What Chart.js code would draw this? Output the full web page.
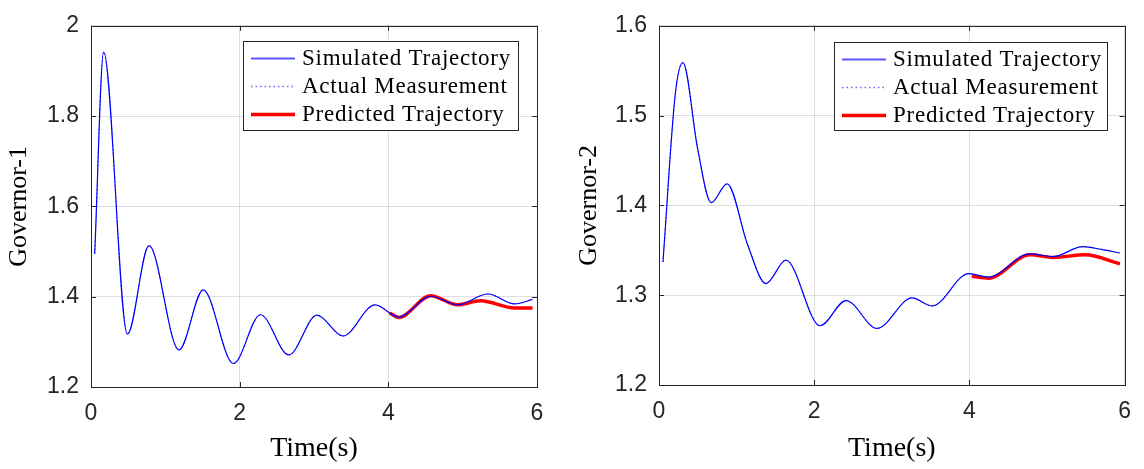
<!DOCTYPE html>
<html>
<head>
<meta charset="utf-8">
<script src="https://cdn.jsdelivr.net/npm/chart.js@4"></script>
<style>
  html, body { margin: 0; padding: 0; background: #fff; }
  #wrap { position: relative; width: 1144px; height: 469px; }
  #gov1Box { position: absolute; left: 0; top: 0; }
  #gov2Box { position: absolute; left: 570px; top: 0; }
</style>
</head>
<body>
<div id="wrap">
  <div id="gov1Box"><canvas id="gov1Chart" width="570" height="469"></canvas></div>
  <div id="gov2Box"><canvas id="gov2Chart" width="574" height="469"></canvas></div>
</div>
<script>
const seriesLabels = ['Simulated Trajectory', 'Actual Measurement', 'Predicted Trajectory'];

// Governor-1 (turning points)
const gov1Time = [0.05, 0.17, 0.49, 0.78, 1.184, 1.51, 1.915, 2.28, 2.66, 3.04, 3.39, 3.82, 4.14, 4.57, 4.93, 5.34, 5.70, 5.94];
const gov1Sim = [1.495, 1.942, 1.317, 1.513, 1.282, 1.415, 1.252, 1.360, 1.271, 1.359, 1.313, 1.382, 1.355, 1.401, 1.382, 1.406, 1.384, 1.394];
const gov1PredTime = [4.02, 4.14, 4.57, 4.93, 5.24, 5.70, 5.94];
const gov1Pred = [1.364, 1.354, 1.402, 1.382, 1.391, 1.375, 1.375];

// Governor-2
const gov2Time = [0.051, 0.21, 0.308, 0.50, 0.672, 0.878, 1.143, 1.378, 1.635, 2.076, 2.41, 2.81, 3.26, 3.52, 3.99, 4.245,
  4.78, 5.08, 5.46, 5.70, 5.94];
const gov2Sim = [1.337, 1.524, 1.559, 1.462, 1.403, 1.424, 1.356, 1.313, 1.339, 1.266, 1.294, 1.263, 1.297, 1.288, 1.324, 1.320,
  1.346, 1.343, 1.354, 1.351, 1.347];
const gov2PredTime = [4.03, 4.245, 4.78, 5.08, 5.49, 5.94];
const gov2Pred = [1.321, 1.319, 1.345, 1.342, 1.345, 1.335];

const xTicks = [0, 2, 4, 6];

const pts = (xs, ys) => xs.map((x, i) => ({ x, y: ys[i] }));

// axes box + inward ticks, like MATLAB
const boxPlugin = {
  id: 'matBox',
  afterDatasetsDraw(chart) {
    const { ctx, chartArea: a, scales } = chart;
    ctx.save();
    ctx.strokeStyle = '#262626';
    ctx.lineWidth = 1;
    ctx.beginPath();
    scales.x.ticks.forEach(t => {
      const px = Math.round(scales.x.getPixelForValue(t.value)) + 0.5;
      ctx.moveTo(px, a.bottom); ctx.lineTo(px, a.bottom - 5);
      ctx.moveTo(px, a.top); ctx.lineTo(px, a.top + 5);
    });
    scales.y.ticks.forEach(t => {
      const py = Math.round(scales.y.getPixelForValue(t.value)) + 0.5;
      ctx.moveTo(a.left, py); ctx.lineTo(a.left + 5, py);
      ctx.moveTo(a.right, py); ctx.lineTo(a.right - 5, py);
    });
    ctx.stroke();
    ctx.strokeRect(Math.round(a.left) + 0.5, Math.round(a.top) + 0.5,
      Math.round(a.right - a.left), Math.round(a.bottom - a.top));
    ctx.restore();
  }
};

// boxed legend inside the plot
const legendPlugin = {
  id: 'boxLegend',
  afterDraw(chart, args, opts) {
    const { ctx } = chart;
    ctx.save();
    ctx.fillStyle = '#fff';
    ctx.fillRect(opts.x, opts.y, opts.w, opts.h);
    ctx.strokeStyle = '#262626';
    ctx.lineWidth = 1;
    ctx.strokeRect(opts.x + 0.5, opts.y + 0.5, opts.w, opts.h);
    ctx.font = '23px "Liberation Serif", "Times New Roman", serif';
    ctx.letterSpacing = '0.75px';
    ctx.textBaseline = 'middle';
    ctx.fillStyle = '#000';
    chart.data.datasets.forEach((ds, i) => {
      const ly = opts.y + 17 + i * 27.8;
      ctx.strokeStyle = ds.legendColor || ds.borderColor;
      ctx.lineWidth = ds.legendWidth || ds.borderWidth;
      ctx.setLineDash(ds.legendDash || []);
      ctx.beginPath();
      ctx.moveTo(opts.x + 8, Math.round(ly) + 0.5);
      ctx.lineTo(opts.x + 52, Math.round(ly) + 0.5);
      ctx.stroke();
      ctx.setLineDash([]);
      ctx.fillText(ds.label, opts.x + 59, ly + 1);
    });
    ctx.restore();
  }
};

function buildGovernorChart(ctx, cfg) {
  return new Chart(ctx, {
    type: 'line',
    data: {
      datasets: [{
        label: seriesLabels[0],
        data: pts(cfg.time, cfg.sim),
        borderColor: '#0000ff',
        borderWidth: 1.2,
        legendColor: '#5a5aff',
        legendWidth: 1.8
      }, {
        label: seriesLabels[1],
        data: pts(cfg.time, cfg.sim),
        borderColor: '#0000ff',
        borderWidth: 1,
        borderDash: [1, 3],
        legendColor: '#6a6aff',
        legendWidth: 1.5,
        legendDash: [1.5, 3]
      }, {
        label: seriesLabels[2],
        data: pts(cfg.predTime, cfg.pred),
        borderColor: '#ff0000',
        borderWidth: 3.5
      }]
    },
    options: {
      responsive: false,
      animation: false,
      devicePixelRatio: 1,
      parsing: false,
      elements: { point: { radius: 0 }, line: { cubicInterpolationMode: 'monotone' } },
      layout: { padding: { top: 21, right: cfg.rightPad, left: 0, bottom: 0 } },
      scales: {
        x: {
          type: 'linear',
          min: 0, max: 6,
          afterBuildTicks: s => { s.ticks = xTicks.map(v => ({ value: v })); },
          afterFit: s => { s.height = cfg.xAxisH; },
          grid: { color: 'rgba(0,0,0,0.13)', drawTicks: false },
          border: { display: false },
          ticks: {
            padding: 13,
            color: '#262626',
            font: { family: '"Liberation Sans", Arial, sans-serif', size: 23 },
            callback: v => String(v)
          },
          title: {
            display: true,
            text: 'Time(s)',
            color: '#000',
            font: { family: '"Liberation Serif", "Times New Roman", serif', size: 28 },
            padding: { top: 0, bottom: 4 }
          }
        },
        y: {
          type: 'linear',
          min: cfg.yTicks[0], max: cfg.yTicks[cfg.yTicks.length - 1],
          afterBuildTicks: s => { s.ticks = cfg.yTicks.map(v => ({ value: v })); },
          afterFit: s => { s.width = cfg.yAxisW; },
          grid: { color: 'rgba(0,0,0,0.13)', drawTicks: false },
          border: { display: false },
          ticks: {
            padding: 12,
            color: '#262626',
            font: { family: '"Liberation Sans", Arial, sans-serif', size: 23 },
            callback: v => String(+v.toFixed(1))
          },
          title: {
            display: true,
            text: cfg.yTitle,
            color: '#000',
            font: { family: '"Liberation Serif", "Times New Roman", serif', size: 26 },
            padding: { top: 4, bottom: 0 }
          }
        }
      },
      plugins: {
        legend: { display: false },
        tooltip: { enabled: false },
        boxLegend: cfg.legendBox
      }
    },
    plugins: [boxPlugin, legendPlugin]
  });
}

buildGovernorChart(document.getElementById('gov1Chart').getContext('2d'), {
  time: gov1Time, sim: gov1Sim, predTime: gov1PredTime, pred: gov1Pred,
  yTicks: [1.2, 1.4, 1.6, 1.8, 2.0],
  yTitle: 'Governor-1',
  yAxisW: 91, xAxisH: 82, rightPad: 33,
  legendBox: { x: 243, y: 41, w: 275, h: 89 }
});

buildGovernorChart(document.getElementById('gov2Chart').getContext('2d'), {
  time: gov2Time, sim: gov2Sim, predTime: gov2PredTime, pred: gov2Pred,
  yTicks: [1.2, 1.3, 1.4, 1.5, 1.6],
  yTitle: 'Governor-2',
  yAxisW: 89, xAxisH: 84, rightPad: 17,
  legendBox: { x: 264, y: 42, w: 273, h: 88 }
});
</script>
</body>
</html>
